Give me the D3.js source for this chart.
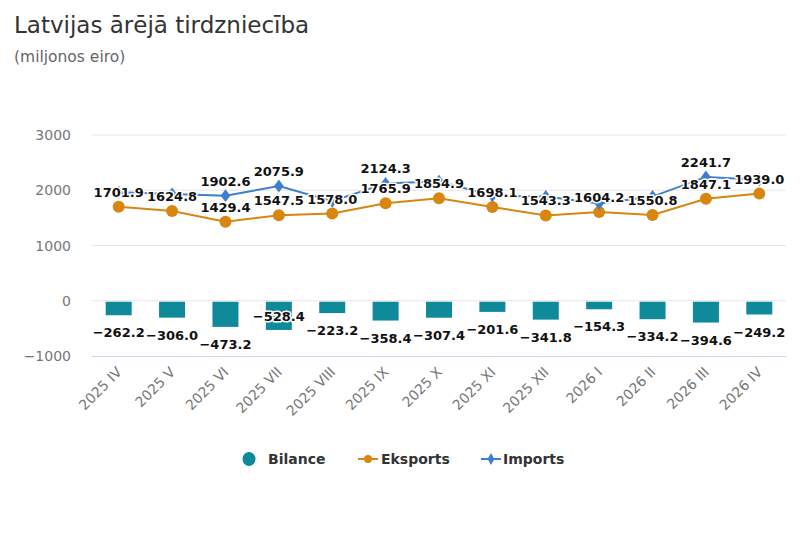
<!DOCTYPE html>
<html>
<head>
<meta charset="utf-8">
<style>
  body { margin: 0; background: #fff; }
  text { font-family: "DejaVu Sans", sans-serif; }
</style>
</head>
<body>
<div id="chart"></div>
<script src="https://cdn.jsdelivr.net/npm/d3@7/dist/d3.min.js"></script>
<script>
// data (miljonos eiro)
var categories = ["2025 IV", "2025 V", "2025 VI", "2025 VII", "2025 VIII", "2025 IX", "2025 X",
                  "2025 XI", "2025 XII", "2026 I", "2026 II", "2026 III", "2026 IV"];
var eksports = [1701.9, 1624.8, 1429.4, 1547.5, 1578.0, 1765.9, 1854.9, 1698.1, 1543.3, 1604.2, 1550.8, 1847.1, 1939.0];
var imports  = [1964.1, 1930.8, 1902.6, 2075.9, 1801.2, 2124.3, 2162.3, 1899.7, 1885.1, 1758.5, 1885.0, 2241.7, 2188.2];
var bilance  = [-262.2, -306.0, -473.2, -528.4, -223.2, -358.4, -307.4, -201.6, -341.8, -154.3, -334.2, -394.6, -249.2];
var yTicks = [-1000, 0, 1000, 2000, 3000];

var W = 800, H = 533;
var plot = {left: 92, right: 786, top: 135, bottom: 356};
var colBil = "#0e8a9b", colEks = "#d8860f", colImp = "#3d7fcf";

var svg = d3.select("#chart").append("svg")
  .attr("width", W).attr("height", H);

// title
svg.append("text").attr("x", 14).attr("y", 33)
  .attr("font-size", "23px").attr("fill", "#333")
  .text("Latvijas ārējā tirdzniecība");
svg.append("text").attr("x", 14).attr("y", 62)
  .attr("font-size", "15.5px").attr("fill", "#666")
  .text("(miljonos eiro)");

var x = d3.scaleBand().domain(categories).range([plot.left, plot.right]).padding(0);
var y = d3.scaleLinear().domain([-1000, 3000]).range([plot.bottom, plot.top]);
var cx = function(i) { return x(categories[i]) + x.bandwidth() / 2; };

// grid
svg.append("g").selectAll("line").data(yTicks.filter(function(t){ return t > -1000; }))
  .enter().append("line")
  .attr("x1", plot.left).attr("x2", plot.right)
  .attr("y1", function(d){ return y(d); }).attr("y2", function(d){ return y(d); })
  .attr("stroke", "#e6e6e6").attr("stroke-width", 1);

// y labels
svg.append("g").selectAll("text").data(yTicks).enter().append("text")
  .attr("x", 71).attr("y", function(d){ return y(d) + 5; })
  .attr("text-anchor", "end").attr("font-size", "14px").attr("fill", "#777")
  .text(function(d){ return d < 0 ? "−" + Math.abs(d) : d; });

// x axis line
svg.append("line").attr("x1", plot.left).attr("x2", plot.right)
  .attr("y1", plot.bottom + 0.5).attr("y2", plot.bottom + 0.5)
  .attr("stroke", "#ccd6eb");

// x labels
svg.append("g").selectAll("text").data(categories).enter().append("text")
  .attr("text-anchor", "end").attr("font-size", "14px").attr("fill", "#777")
  .attr("transform", function(d, i){ return "translate(" + (cx(i) + 4) + "," + (plot.bottom + 17) + ") rotate(-45)"; })
  .text(function(d){ return d; });

// bars
svg.append("g").selectAll("rect").data(bilance).enter().append("rect")
  .attr("x", function(d, i){ return cx(i) - 13; })
  .attr("width", 26)
  .attr("y", y(0) + 1)
  .attr("height", function(d){ return y(d) - y(0) - 1; })
  .attr("fill", colBil);

// lines
var line = d3.line().x(function(d, i){ return cx(i); }).y(function(d){ return y(d); });
svg.append("path").datum(eksports).attr("d", line)
  .attr("fill", "none").attr("stroke", colEks).attr("stroke-width", 2);
svg.append("path").datum(imports).attr("d", line)
  .attr("fill", "none").attr("stroke", colImp).attr("stroke-width", 2);

svg.append("g").selectAll("circle").data(eksports).enter().append("circle")
  .attr("cx", function(d, i){ return cx(i); }).attr("cy", function(d){ return y(d); })
  .attr("r", 6).attr("fill", colEks);
var diamond = d3.symbol().type(d3.symbolDiamond).size(60);
svg.append("g").selectAll("path").data(imports).enter().append("path")
  .attr("d", diamond)
  .attr("transform", function(d, i){ return "translate(" + cx(i) + "," + y(d) + ") scale(1.15,0.9)"; })
  .attr("fill", colImp);

// data labels
var labels = svg.append("g");
function addLabel(tx, ty, str) {
  return labels.append("text")
    .attr("x", tx).attr("y", ty + 5)
    .attr("text-anchor", "middle").attr("font-size", "13px").attr("font-weight", "bold")
    .attr("fill", "#111").attr("stroke", "#fff").attr("stroke-width", 3)
    .attr("stroke-linejoin", "round").attr("paint-order", "stroke")
    .text(str);
}
var fmt = function(v){ return (v < 0 ? "−" : "") + Math.abs(v).toFixed(1); };

bilance.forEach(function(v, i) {
  var ly = y(v) + 17;
  if (ly + 11 > plot.bottom) ly = y(v) - 14; // justify inside
  addLabel(cx(i), ly, fmt(v));
});

var boxes = [];
function overlaps(b) {
  return boxes.some(function(o){
    return b.x < o.x + o.width && o.x < b.x + b.width && b.y < o.y + o.height && o.y < b.y + b.height;
  });
}
function pad(b) { return {x: b.x - 1, y: b.y - 2, width: b.width + 2, height: b.height + 4}; }
eksports.forEach(function(v, i) {
  var t = addLabel(cx(i), y(v) - 15, fmt(v));
  boxes.push(pad(t.node().getBBox()));
});
imports.forEach(function(v, i) {
  var t = addLabel(cx(i), y(v) - 15, fmt(v));
  var b = pad(t.node().getBBox());
  if (overlaps(b)) t.remove(); else boxes.push(b);
});

// legend
var lg = svg.append("g").attr("transform", "translate(0,459)");
lg.append("ellipse").attr("cx", 249).attr("cy", 0).attr("rx", 6.5).attr("ry", 7).attr("fill", colBil);
lg.append("text").attr("x", 268).attr("y", 5).text("Bilance");
lg.append("line").attr("x1", 358).attr("x2", 378).attr("stroke", colEks).attr("stroke-width", 2);
lg.append("circle").attr("cx", 368).attr("r", 4).attr("fill", colEks);
lg.append("text").attr("x", 381).attr("y", 5).text("Eksports");
lg.append("line").attr("x1", 481).attr("x2", 501).attr("stroke", colImp).attr("stroke-width", 2);
lg.append("path").attr("d", d3.symbol().type(d3.symbolDiamond).size(40)).attr("transform", "translate(491,0)").attr("fill", colImp);
lg.append("text").attr("x", 503).attr("y", 5).text("Imports");
lg.selectAll("text").attr("font-size", "14px").attr("font-weight", "bold").attr("fill", "#333");
</script>
</body>
</html>
